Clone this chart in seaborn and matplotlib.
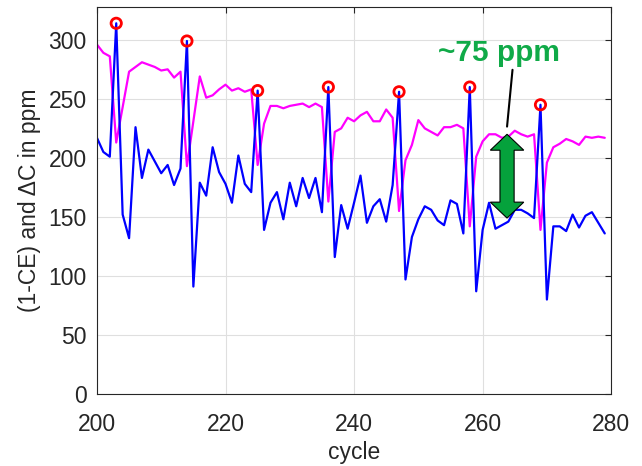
import numpy as np
import pandas as pd
import matplotlib
matplotlib.use("Agg")
import matplotlib.pyplot as plt
from matplotlib.patches import Polygon
import seaborn as sns

# cycles 200..279
cycles = list(range(200, 280))

# blue curve
serie_bleue = [217, 205, 201, 314, 152, 132, 226, 183, 207, 197,
               187, 194, 177, 191, 299, 91, 179, 168, 209, 188,
               178, 162, 202, 178, 171, 257, 139, 162, 171, 148,
               179, 159, 183, 166, 183, 154, 260, 116, 160, 140,
               162, 185, 145, 159, 165, 146, 177, 256, 97, 133,
               148, 159, 156, 147, 143, 164, 161, 136, 260, 87,
               139, 162, 140, 143, 146, 156, 156, 153, 149, 245,
               80, 142, 142, 138, 152, 141, 151, 154, 145, 136]

# magenta curve
serie_magenta = [296, 289, 286, 213, 243, 273, 277, 281, 279, 277,
                 274, 275, 268, 273, 193, 231, 269, 251, 253, 258,
                 262, 257, 259, 256, 258, 194, 229, 244, 244, 242,
                 244, 245, 246, 243, 246, 243, 163, 222, 225, 234,
                 231, 236, 239, 231, 231, 241, 234, 155, 198, 211,
                 232, 225, 222, 219, 226, 226, 228, 225, 142, 201,
                 214, 220, 220, 217, 218, 223, 220, 218, 220, 139,
                 196, 209, 212, 216, 214, 211, 218, 217, 218, 217]

# cycles marked with red circles
cycles_pics = [203, 214, 225, 236, 247, 258, 269]

# ~75 ppm arrow (cycle, top, bottom)
fleche_cycle = 263.8
fleche_haut = 220
fleche_bas = 149

df = pd.DataFrame({"cycle": cycles, "bleu": serie_bleue, "magenta": serie_magenta})
pics = df[df["cycle"].isin(cycles_pics)]

sns.set_style("whitegrid")
plt.rcParams["font.family"] = ["Liberation Sans", "DejaVu Sans"]

fig = plt.figure(figsize=(6.42, 4.66), dpi=100)
ax = fig.add_axes([0.151, 0.1545, 0.801, 0.831])

sns.lineplot(data=df, x="cycle", y="magenta", color="#FF00FF", lw=1.6, ax=ax)
sns.lineplot(data=df, x="cycle", y="bleu", color="#0000FF", lw=1.6, ax=ax)
sns.scatterplot(data=pics, x="cycle", y="bleu", marker="o", s=55,
                facecolor="none", edgecolor="#FF0000", linewidth=2.0, ax=ax, zorder=5)

# double arrow
dx_tete, dx_corps, dy_tete = 2.6, 1.1, 13.5
x0 = fleche_cycle
pts = [(x0, fleche_haut), (x0 + dx_tete, fleche_haut - dy_tete), (x0 + dx_corps, fleche_haut - dy_tete),
       (x0 + dx_corps, fleche_bas + dy_tete), (x0 + dx_tete, fleche_bas + dy_tete), (x0, fleche_bas),
       (x0 - dx_tete, fleche_bas + dy_tete), (x0 - dx_corps, fleche_bas + dy_tete),
       (x0 - dx_corps, fleche_haut - dy_tete), (x0 - dx_tete, fleche_haut - dy_tete)]
ax.add_patch(Polygon(pts, closed=True, facecolor="#05A23C", edgecolor="black", lw=0.8, zorder=6))

ax.plot([264.65, 263.8], [274.6, 226.5], color="black", lw=1.5, zorder=6)
ax.text(262.6, 289, "~75 ppm", color="#10AA48", fontsize=21.5, fontweight="bold",
        ha="center", va="center", zorder=7)

ax.set_xlim(200, 280)
ax.set_ylim(0, 328)
ax.set_xticks([200, 220, 240, 260, 280])
ax.set_yticks([0, 50, 100, 150, 200, 250, 300])
ax.set_xlabel("cycle", fontsize=16.5, color="#262626", labelpad=3)
ax.set_ylabel("(1-CE) and ΔC in ppm", fontsize=16.5, color="#262626", labelpad=5)
ax.tick_params(axis="both", direction="in", length=4, width=0.8, colors="#262626",
               labelsize=16.5, top=True, right=True)
ax.tick_params(axis="x", pad=14)
ax.tick_params(axis="y", pad=7.5)
ax.grid(True, color="#DFDFDF", lw=0.8)
for s in ax.spines.values():
    s.set_color("#262626")
    s.set_linewidth(0.8)
    s.set_visible(True)

plt.savefig("out.png", dpi=100)
